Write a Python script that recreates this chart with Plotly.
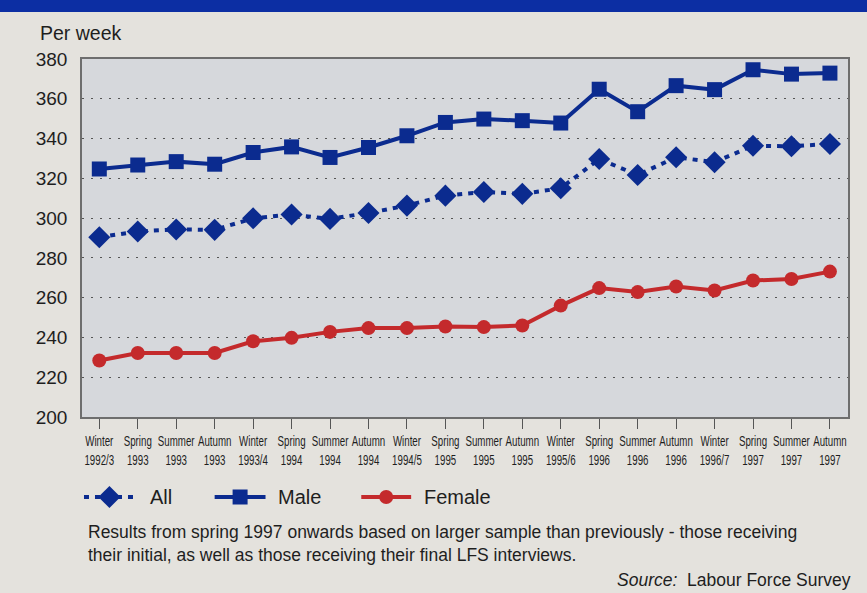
import plotly.graph_objects as go

# Average gross weekly earnings, £ per week
seasons = ["Winter", "Spring", "Summer", "Autumn"] * 5
years = ["1992/3", "1993", "1993", "1993", "1993/4", "1994", "1994", "1994",
         "1994/5", "1995", "1995", "1995", "1995/6", "1996", "1996", "1996",
         "1996/7", "1997", "1997", "1997"]
quarters = [f"{s}<br>{y}" for s, y in zip(seasons, years)]

all_values = [290.4, 293.3, 294.3, 294.1, 299.9, 301.8, 299.6, 302.6, 306.3, 311.3,
              313.1, 312.2, 315.0, 329.7, 321.7, 330.6, 328.1, 336.4, 336.1, 337.3]
male_values = [324.7, 326.7, 328.4, 327.1, 333.0, 335.8, 330.5, 335.5, 341.4, 348.1,
               349.8, 349.0, 347.8, 364.8, 353.5, 366.6, 364.6, 374.6, 372.4, 372.9]
female_values = [228.4, 232.2, 232.2, 232.2, 238.1, 239.8, 242.8, 244.7, 244.7, 245.5,
                 245.2, 246.0, 256.0, 264.8, 262.8, 265.6, 263.6, 268.6, 269.4, 273.1]

y_ticks = [200, 220, 240, 260, 280, 300, 320, 340, 360, 380]

BLUE = "#0b2b8f"
RED = "#c42a2c"
TEXT = "#1e1e1e"
PAPER = "#e4e2dd"
PLOT_BG = "#d6d8dc"
DASH_ALL = "5px,6px"

W, H = 867, 593
ML, MR, MT, MB = 82, 17, 59, 30


def px(p):
    """Horizontal pixel -> paper coordinate."""
    return (p - ML) / (W - ML - MR)


def py(p):
    """Vertical pixel -> paper coordinate."""
    return (H - MB - p) / (H - MT - MB)


x_idx = list(range(len(quarters)))
series = [
    ("All", all_values, BLUE, DASH_ALL, "diamond", 17),
    ("Male", male_values, BLUE, "solid", "square", 15),
    ("Female", female_values, RED, "solid", "circle", 14),
]

fig = go.Figure()
for name, vals, color, dash, symbol, size in series:
    fig.add_trace(go.Scatter(
        x=x_idx, y=vals, name=name, mode="lines+markers",
        line=dict(color=color, width=4, dash=dash),
        marker=dict(symbol=symbol, size=size, color=color),
        showlegend=False,
    ))

# Key drawn on its own hidden axes below the chart
key_x = [(84, 135), (215, 266), (362, 412)]
key_text_x = [148, 277, 423]
for (name, _, color, dash, symbol, size), (x0, x1), tx in zip(series, key_x, key_text_x):
    fig.add_trace(go.Scatter(
        x=[x0, x1], y=[0, 0], mode="lines", xaxis="x2", yaxis="y2",
        line=dict(color=color, width=4, dash=dash), showlegend=False, hoverinfo="skip",
    ))
    fig.add_trace(go.Scatter(
        x=[(x0 + x1) / 2], y=[0], mode="markers", xaxis="x2", yaxis="y2",
        marker=dict(symbol=symbol, size=size, color=color), showlegend=False, hoverinfo="skip",
    ))
    fig.add_annotation(text=name, xref="x2", yref="y2", x=tx, y=0, xanchor="left",
                       yanchor="middle", showarrow=False, font=dict(size=20, color=TEXT))

# Chart panel background (under the gridlines)
fig.add_shape(type="rect", xref="x domain", yref="y domain", x0=0, x1=1, y0=0, y1=1,
              fillcolor=PLOT_BG, line=dict(width=0), layer="below")

# Header band
fig.add_shape(type="rect", xref="paper", yref="paper",
              x0=-0.2, x1=1.1, y0=py(12), y1=1.3,
              fillcolor="#0c2ea3", line=dict(width=0), layer="below")

fig.add_annotation(text="Per week", xref="paper", yref="paper",
                   x=px(38), y=py(33), xanchor="left", yanchor="middle",
                   showarrow=False, font=dict(size=19.5, color=TEXT))
fig.add_annotation(
    text="Results from spring 1997 onwards based on larger sample than previously - those receiving"
         "<br>their initial, as well as those receiving their final LFS interviews.",
    xref="paper", yref="paper", x=px(86), y=py(543), xanchor="left", yanchor="middle",
    align="left", showarrow=False, font=dict(size=17.5, color=TEXT))
fig.add_annotation(text="<i>Source:</i>  Labour Force Survey", xref="paper", yref="paper",
                   x=px(855), y=py(580), xanchor="right", yanchor="middle",
                   showarrow=False, font=dict(size=17.5, color=TEXT))

fig.update_layout(
    width=W, height=H,
    margin=dict(l=ML, r=MR, t=MT, b=MB),
    paper_bgcolor=PAPER,
    plot_bgcolor="rgba(0,0,0,0)",
    font=dict(family="Liberation Sans, Arial, sans-serif", color=TEXT),
    showlegend=False,
    xaxis=dict(
        range=[-0.45, 19.47], tickmode="array", tickvals=x_idx, ticktext=quarters,
        tickangle=0,
        ticks="outside", ticklen=10, tickcolor="#555", tickwidth=1,
        tickfont=dict(size=14.5, color=TEXT),
        showgrid=False, zeroline=False, anchor="y",
        showline=True, linecolor="#6e6e6e", linewidth=1.5, mirror=True,
    ),
    yaxis=dict(
        domain=[py(417), 1], anchor="x",
        range=[200, 380], tickmode="array", tickvals=y_ticks,
        tickfont=dict(size=19, color=TEXT), ticks="", ticklabelstandoff=9,
        showgrid=True, gridcolor="#555", gridwidth=1.3, griddash="1.5px,7.5px",
        zeroline=False, showline=True, linecolor="#6e6e6e", linewidth=1.5, mirror=True,
    ),
    xaxis2=dict(domain=[0, 1], range=[ML, W - MR], visible=False, anchor="y2"),
    yaxis2=dict(domain=[py(510), py(484)], range=[-1, 1], visible=False, anchor="x2"),
)

# Set the quarter labels in a condensed width so each fits its slot
condense_js = """
var gd = document.getElementById('{plot_id}');
function condenseTicks() {
  try {
    gd.querySelectorAll('.xtick text').forEach(function (t) {
      var lines = t.querySelectorAll('tspan.line');
      var items = lines.length ? lines : [t];
      items.forEach(function (s) {
        if (s.getAttribute('data-cond')) return;
        var w = s.getComputedTextLength();
        s.setAttribute('textLength', (w * 0.67).toFixed(1));
        s.setAttribute('lengthAdjust', 'spacingAndGlyphs');
        s.setAttribute('data-cond', '1');
      });
    });
  } catch (e) {}
}
condenseTicks();
gd.on('plotly_afterplot', condenseTicks);
"""

fig.write_html("out.html", post_script=condense_js)
